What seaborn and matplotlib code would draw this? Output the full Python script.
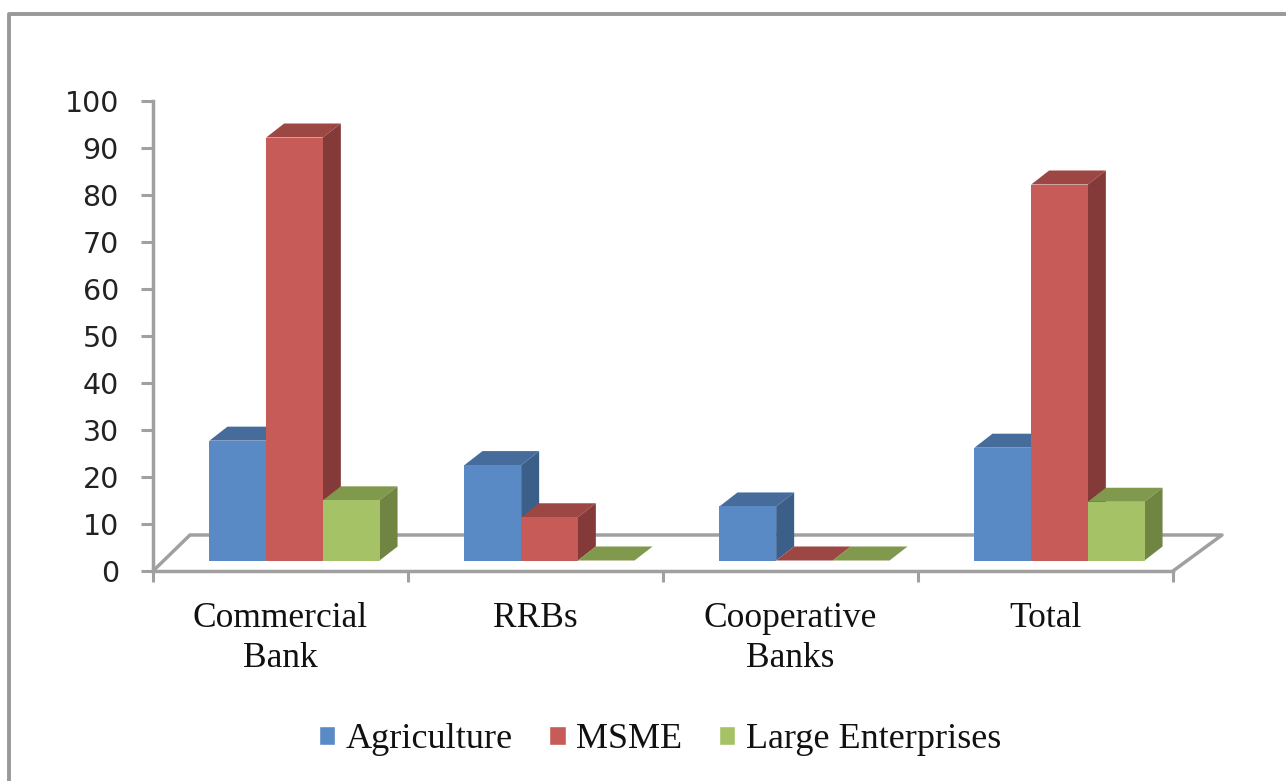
import matplotlib
matplotlib.use("Agg")
import matplotlib.pyplot as plt
from matplotlib.lines import Line2D
from matplotlib.patches import Polygon
import pandas as pd
import seaborn as sns

W, H = 1286, 781

categories = ["Commercial\nBank", "RRBs", "Cooperative\nBanks", "Total"]
series = ["Agriculture", "MSME", "Large Enterprises"]
agriculture = [25.5, 20.3, 11.5, 24]
msme = [90, 9.2, 0, 80]
large = [12.8, 0, 0, 12.5]
y_ticks = [0, 10, 20, 30, 40, 50, 60, 70, 80, 90, 100]

front_colors = ["#5a8ac6", "#c75b57", "#a5c266"]
top_colors = ["#466c9c", "#9c4743", "#81994d"]
side_colors = ["#3c5f8a", "#843a39", "#6f8541"]
GREY = "#a0a0a0"
DEPTH_X, DEPTH_Y = 18, 14  # pixels


def fx(px):
    return px / W


def fy(py):
    return 1 - py / H


df = pd.DataFrame({
    "category": categories * 3,
    "series": [s for s in series for _ in categories],
    "value": agriculture + msme + large,
})

sns.set_theme(style="white")
fig = plt.figure(figsize=(W / 100, H / 100), dpi=100, facecolor="white")

# outer frame, only left and top edges are inside the picture
fig.add_artist(Line2D([fx(9), fx(9), fx(W)], [fy(H), fy(14), fy(14)], transform=fig.transFigure,
                      color="#999999", linewidth=2.8))

# main axes: carries scale, ticks and floor
ax = fig.add_axes([fx(153), fy(571), fx(1020), fy(101) - fy(571)], zorder=1)
ax.set_xlim(0, 4)
ax.set_ylim(0, 100)
ax.set_yticks(y_ticks)
ax.set_xticks([0, 1, 2, 3, 4])
ax.set_xticklabels([])
ax.set_xticks([0.5, 1.5, 2.5, 3.5], labels=categories, minor=True, fontfamily="Liberation Serif", fontsize=25.5)
ax.tick_params(axis="x", which="minor", bottom=False, pad=18, colors="#111111")
ax.tick_params(axis="x", which="major", bottom=True, length=8, width=2.2, color=GREY)
ax.tick_params(axis="y", left=True, length=8.6, width=2.2, color=GREY, pad=16, labelsize=20.5, labelcolor="#222222")
for side in ["top", "right"]:
    ax.spines[side].set_visible(False)
for side in ["left", "bottom"]:
    ax.spines[side].set_color(GREY)
    ax.spines[side].set_linewidth(2.5)
for t in ax.get_xticklabels(minor=True):
    t.set_linespacing(1.3)

floor_x = [fx(153), fx(190), fx(1222), fx(1173)]
floor_y = [fy(571), fy(535), fy(535), fy(571)]
ax.add_line(Line2D(floor_x, floor_y, transform=fig.transFigure, color=GREY, linewidth=2.5, clip_on=False))

# bars sit on the floor, a bit behind the front edge
ax_bars = fig.add_axes([fx(167), fy(560.5), fx(1020), fy(90.5) - fy(560.5)], zorder=2)
ax_bars.patch.set_alpha(0)
sns.barplot(data=df, x="category", y="value", hue="series", order=categories, hue_order=series,
            palette=front_colors, saturation=1, errorbar=None, width=0.667, gap=0, ax=ax_bars)
ax_bars.set_xlim(-0.5, 3.5)
ax_bars.set_ylim(0, 100)
ax_bars.axis("off")

dx = DEPTH_X * 4 / 1020
dy = DEPTH_Y * 100 / 470
for i, container in enumerate(ax_bars.containers):
    for bar in container:
        x0 = bar.get_x()
        x1 = x0 + bar.get_width()
        h = bar.get_height()
        bar.set_zorder(3 + 2 * i)
        bar.set_linewidth(0)
        ax_bars.add_patch(Polygon([(x0, h), (x0 + dx, h + dy), (x1 + dx, h + dy), (x1, h)],
                                  facecolor=top_colors[i], edgecolor="none", zorder=2 + 2 * i, clip_on=False))
        if h > 0:
            ax_bars.add_patch(Polygon([(x1, 0), (x1 + dx, dy), (x1 + dx, h + dy), (x1, h)],
                                      facecolor=side_colors[i], edgecolor="none", zorder=2 + 2 * i, clip_on=False))

handles, labels = ax_bars.get_legend_handles_labels()
ax_bars.get_legend().remove()
fig.legend(handles, labels, loc="center", bbox_to_anchor=(fx(660), fy(740)), ncol=3, frameon=False,
           prop={"family": "Liberation Serif", "size": 26}, labelcolor="#111111",
           handlelength=0.45, handleheight=0.45, handletextpad=0.3, columnspacing=1.0)

fig.savefig("out.png", dpi=100)
